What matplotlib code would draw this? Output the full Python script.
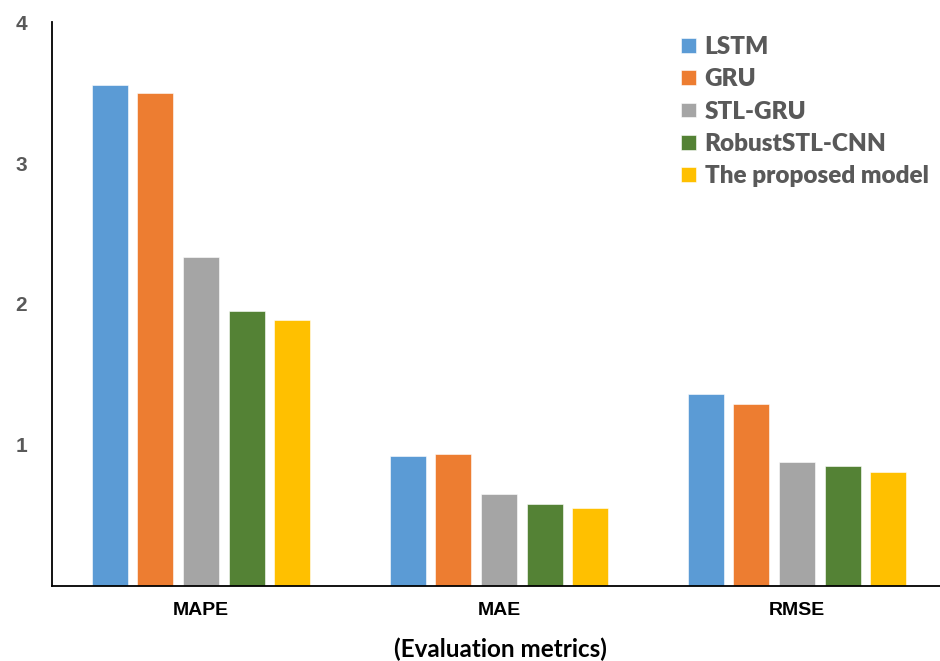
import numpy as np
import matplotlib
matplotlib.use("Agg")
import matplotlib.pyplot as plt

# error values per metric, one list per model
metrics = ["MAPE", "MAE", "RMSE"]
models = ["LSTM", "GRU", "STL-GRU", "RobustSTL-CNN", "The proposed model"]
lstm = [3.55, 0.925, 1.36]
gru = [3.50, 0.935, 1.29]
stl_gru = [2.33, 0.65, 0.88]
robust_stl_cnn = [1.95, 0.58, 0.85]
proposed = [1.89, 0.55, 0.81]
y_ticks = [1, 2, 3, 4]

colors = ["#5B9BD5", "#ED7D31", "#A5A5A5", "#548235", "#FFC000"]
series = [lstm, gru, stl_gru, robust_stl_cnn, proposed]

fig = plt.figure(figsize=(9.4, 6.61), dpi=100)
ax = fig.add_axes([0.0553, 0.1135, 0.9447, 0.8532])

x = np.arange(len(metrics))
step = 0.1534
width = 0.121
for i, (vals, name, c) in enumerate(zip(series, models, colors)):
    ax.bar(x + (i - 2) * step, vals, width, color=c, label=name,
           edgecolor="white", linewidth=0.4)

ax.set_xlim(-0.5, 2.48)
ax.set_ylim(0, 4)
ax.set_yticks(y_ticks)
ax.set_xticks(x)
ax.set_xticklabels(metrics, fontfamily="Liberation Sans", fontweight="bold",
                   fontsize=14, color="black")
ax.set_yticklabels([str(t) for t in y_ticks], fontfamily="Liberation Sans",
                   fontweight="bold", fontsize=15, color="#595959")
ax.tick_params(axis="both", length=0)
ax.tick_params(axis="x", pad=11.5)
ax.tick_params(axis="y", pad=18)

for s in ["top", "right"]:
    ax.spines[s].set_visible(False)
for s in ["left", "bottom"]:
    ax.spines[s].set_linewidth(1.3)
    ax.spines[s].set_color("black")

ax.set_xlabel("(Evaluation metrics)", fontfamily="Lato", fontweight="bold",
              fontsize=17.5, color="black")
ax.xaxis.label.set_va("center")
ax.xaxis.set_label_coords(0.5045, -0.1117)

leg = ax.legend(loc="upper left", bbox_to_anchor=(0.712, 1 - 24 / 661),
                bbox_transform=fig.transFigure, frameon=False, borderpad=0,
                handlelength=0.6, handleheight=0.55, handletextpad=0.35,
                labelspacing=0.42, prop={"family": "Lato", "weight": "heavy", "size": 17.5},
                labelcolor="#595959")

fig.savefig("out.png", dpi=100)
